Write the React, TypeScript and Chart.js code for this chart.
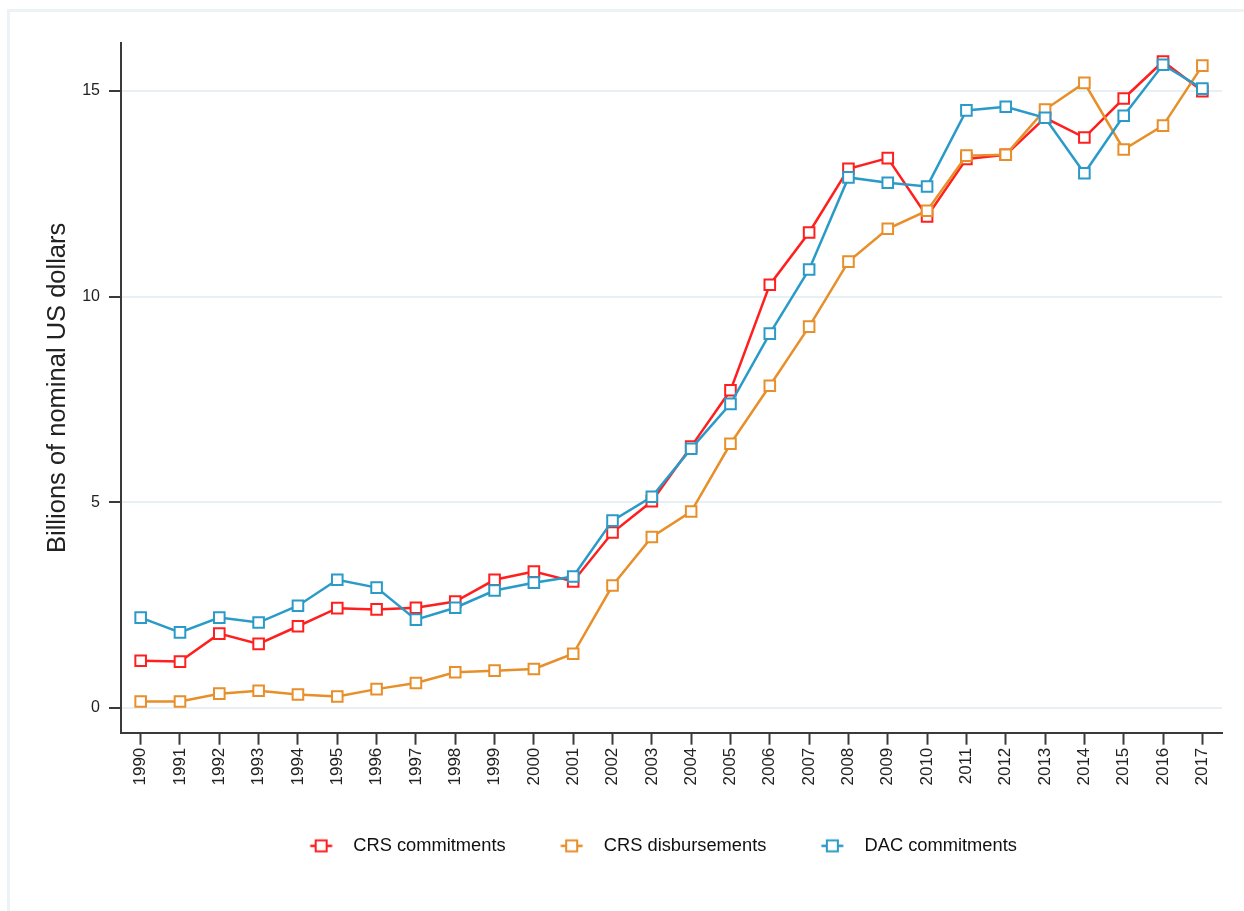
import React, { useEffect, useRef } from "react";
import { Chart, registerables } from "chart.js";

Chart.register(...registerables);

const years = [
  "1990", "1991", "1992", "1993", "1994", "1995", "1996", "1997", "1998", "1999",
  "2000", "2001", "2002", "2003", "2004", "2005", "2006", "2007", "2008", "2009",
  "2010", "2011", "2012", "2013", "2014", "2015", "2016", "2017",
];

const crsCommitments = [
  1.14, 1.12, 1.8, 1.55, 1.98, 2.42, 2.39, 2.43, 2.58, 3.11,
  3.31, 3.07, 4.26, 5.02, 6.35, 7.72, 10.29, 11.56, 13.11, 13.37,
  11.95, 13.35, 13.45, 14.35, 13.87, 14.82, 15.72, 15.0,
];

const crsDisbursements = [
  0.15, 0.15, 0.34, 0.41, 0.32, 0.27, 0.45, 0.6, 0.86, 0.9,
  0.94, 1.31, 2.97, 4.15, 4.77, 6.42, 7.83, 9.27, 10.85, 11.65,
  12.09, 13.43, 13.45, 14.55, 15.2, 13.58, 14.16, 15.62,
];

const dacCommitments = [
  2.19, 1.83, 2.19, 2.07, 2.48, 3.11, 2.92, 2.14, 2.43, 2.85,
  3.04, 3.19, 4.55, 5.13, 6.3, 7.39, 9.1, 10.66, 12.9, 12.77,
  12.68, 14.53, 14.62, 14.35, 13.0, 14.4, 15.64, 15.06,
];

const yTicks = [0, 5, 10, 15];

const seriesNames = ["CRS commitments", "CRS disbursements", "DAC commitments"];
const seriesColors = ["#ff1f1f", "#e88f2a", "#2a9bc8"];

const FONT = "'Liberation Sans', Arial, sans-serif";

function legendSwatch(color: string): HTMLCanvasElement {
  const c = document.createElement("canvas");
  c.width = 120;
  c.height = 18;
  const ctx = c.getContext("2d")!;
  const cx = 76.5;
  const cy = 9;
  ctx.strokeStyle = color;
  ctx.lineWidth = 2.5;
  ctx.beginPath();
  ctx.moveTo(cx - 11, cy);
  ctx.lineTo(cx + 11, cy);
  ctx.stroke();
  ctx.fillStyle = "#ffffff";
  ctx.fillRect(cx - 5.5, cy - 5.5, 11, 11);
  ctx.lineWidth = 2;
  ctx.strokeRect(cx - 5.5, cy - 5.5, 11, 11);
  return c;
}

export default function App() {
  const canvasRef = useRef<HTMLCanvasElement | null>(null);

  useEffect(() => {
    if (!canvasRef.current) return;
    const seriesData = [crsCommitments, crsDisbursements, dacCommitments];
    const swatches = seriesColors.map((c) => legendSwatch(c));

    const chart = new Chart(canvasRef.current, {
      type: "line",
      data: {
        labels: years,
        datasets: seriesData.map((d, i) => ({
          label: seriesNames[i],
          data: d,
          borderColor: seriesColors[i],
          backgroundColor: "#ffffff",
          borderWidth: 2.5,
          pointStyle: "rect",
          pointRadius: 7.5,
          pointBorderWidth: 2,
          pointBackgroundColor: "#ffffff",
          pointBorderColor: seriesColors[i],
          tension: 0,
          fill: false,
          order: 3 - i,
        })),
      },
      options: {
        animation: false,
        responsive: false,
        maintainAspectRatio: false,
        layout: { padding: { top: 43, right: 22, left: 60, bottom: 46 } },
        plugins: {
          tooltip: { enabled: false },
          legend: {
            position: "bottom",
            align: "center",
            labels: {
              usePointStyle: true,
              pointStyleWidth: 79,
              padding: 10,
              color: "#111111",
              font: { family: FONT, size: 18.3 },
              generateLabels: () =>
                seriesNames.map((name, i) => ({
                  text: name,
                  pointStyle: swatches[i] as any,
                  fillStyle: "#ffffff",
                  strokeStyle: seriesColors[i],
                  lineWidth: 2,
                  hidden: false,
                  datasetIndex: i,
                  fontColor: "#111111",
                })),
            },
          },
        },
        scales: {
          x: {
            type: "category",
            offset: true,
            afterFit: (scale: any) => {
              scale.height = 94;
            },
            grid: {
              drawOnChartArea: false,
              drawTicks: true,
              tickLength: 12,
              tickWidth: 2,
              tickColor: "#3a3a3a",
            },
            border: { display: true, color: "#3a3a3a", width: 2 },
            ticks: {
              autoSkip: false,
              minRotation: 90,
              maxRotation: 90,
              padding: 3,
              color: "#222222",
              font: { family: FONT, size: 17 },
            },
          },
          y: {
            type: "linear",
            min: -0.61,
            max: 16.17,
            afterFit: (scale: any) => {
              scale.width = 61;
            },
            afterBuildTicks: (scale: any) => {
              scale.ticks = yTicks.map((v) => ({ value: v }));
            },
            grid: {
              color: "#e9f0f3",
              lineWidth: 2,
              drawTicks: true,
              tickLength: 12,
              tickWidth: 2,
              tickColor: "#3a3a3a",
            },
            border: { display: true, color: "#3a3a3a", width: 2 },
            ticks: {
              padding: 9,
              color: "#222222",
              font: { family: FONT, size: 16 },
            },
            title: {
              display: true,
              text: "Billions of nominal US dollars",
              color: "#222222",
              font: { family: FONT, size: 25.5 },
              padding: { top: -17, bottom: 0 },
            },
          },
        },
      },
    });

    return () => {
      chart.destroy();
    };
  }, []);

  return (
    <div
      style={{
        position: "fixed",
        left: 0,
        top: 0,
        width: 1244,
        height: 911,
        overflow: "hidden",
        background: "#ffffff",
      }}
    >
      <div
        style={{
          position: "absolute",
          left: 7,
          top: 9,
          width: 1300,
          height: 1000,
          border: "3px solid #edf2f5",
          boxSizing: "border-box",
        }}
      />
      <canvas
        ref={canvasRef}
        width={1244}
        height={911}
        style={{ position: "absolute", left: 0, top: 0, width: 1244, height: 911 }}
      />
    </div>
  );
}
